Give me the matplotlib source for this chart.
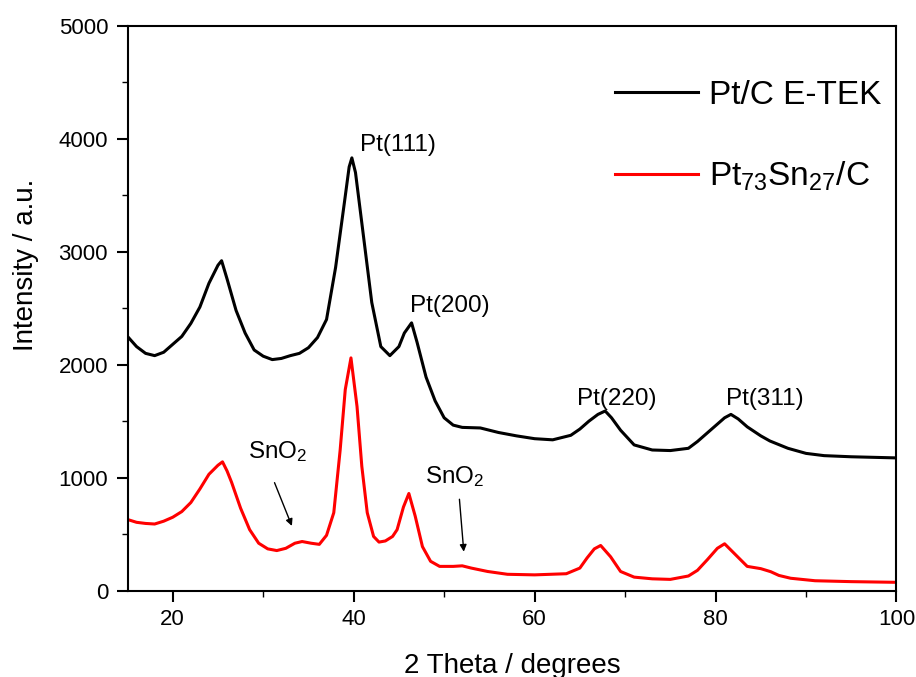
import matplotlib
matplotlib.use("Agg")
import matplotlib.pyplot as plt
from matplotlib.ticker import MultipleLocator

plt.rcParams['font.family'] = 'Liberation Sans'
plt.rcParams['mathtext.fontset'] = 'custom'
plt.rcParams['mathtext.rm'] = 'Liberation Sans'
plt.rcParams['mathtext.it'] = 'Liberation Sans:italic'

# -------------------------------------------------------------------------------------
# Data
# -------------------------------------------------------------------------------------
tt_etek = [15, 16, 17, 18, 19, 20, 21, 22, 23, 24, 25, 25.4, 26, 27, 28, 29, 30, 31, 32, 33,
           34, 35, 36, 37, 38, 39, 39.5, 39.8, 40.2, 41, 42, 43, 44, 45, 45.6, 46.4, 47, 48,
           49, 50, 51, 52, 54, 56, 58, 60, 62, 64, 65, 66, 67, 67.8, 68.5, 69.5, 71, 73, 75,
           77, 78, 79, 80, 81, 81.7, 82.5, 83.5, 85, 86, 88, 90, 92, 95, 100]
i_etek = [2250, 2160, 2100, 2080, 2110, 2180, 2250, 2365, 2510, 2720, 2880, 2920, 2760, 2480,
          2280, 2130, 2075, 2045, 2055, 2080, 2100, 2150, 2240, 2400, 2860, 3450, 3750, 3830,
          3700, 3190, 2550, 2160, 2080, 2160, 2280, 2370, 2200, 1890, 1680, 1530, 1465, 1445,
          1440, 1400, 1370, 1345, 1335, 1375, 1430, 1500, 1560, 1590, 1530, 1420, 1290, 1245,
          1240, 1260, 1320, 1390, 1460, 1530, 1560, 1520, 1450, 1370, 1325, 1260, 1215, 1195,
          1185, 1175]

tt_ptsn = [15, 16, 17, 18, 19, 20, 21, 22, 23, 24, 25, 25.5, 26, 26.5, 27.5, 28.5, 29.5, 30.5,
           31.5, 32.5, 33.5, 34.3, 35.3, 36.2, 37, 37.8, 38.5, 39.07, 39.7, 40.37, 40.9, 41.5,
           42.2, 42.8, 43.5, 44.3, 44.8, 45.5, 46.1, 46.8, 47.6, 48.5, 49.5, 51, 52, 53, 54.8,
           57, 60, 63.5, 65, 65.8, 66.6, 67.3, 68.4, 69.5, 71, 73, 75, 77, 78, 79.1, 80.2, 81,
           82, 83.5, 85, 86.1, 87, 88.3, 91, 95, 100]
i_ptsn = [630, 605, 595, 590, 615, 650, 700, 780, 900, 1030, 1110, 1140, 1060, 960, 730, 540,
          420, 370, 355, 375, 420, 435, 420, 410, 490, 690, 1240, 1780, 2060, 1630, 1100, 690,
          480, 430, 440, 480, 540, 740, 860, 660, 390, 260, 215, 215, 220, 200, 170, 145, 140,
          150, 200, 290, 370, 400, 300, 170, 120, 105, 100, 130, 180, 275, 375, 415, 335, 215,
          195, 168, 135, 110, 88, 80, 74]

Linewidth = 2.2

# -------------------------------------------------------------------------------------
# Plot
# -------------------------------------------------------------------------------------
fig = plt.figure(figsize=(9.16, 6.77), dpi=100)
ax = fig.add_axes([0.1392, 0.1275, 0.8395, 0.8346])

ax.plot(tt_etek, i_etek, color='black', linewidth=Linewidth, label='Pt/C E-TEK')
ax.plot(tt_ptsn, i_ptsn, color='#ff0000', linewidth=Linewidth, label=r'Pt$_{73}$Sn$_{27}$/C')

ax.set_xlim(15, 100)
ax.set_ylim(0, 5000)
ax.xaxis.set_major_locator(MultipleLocator(20))
ax.xaxis.set_minor_locator(MultipleLocator(10))
ax.yaxis.set_major_locator(MultipleLocator(1000))
ax.yaxis.set_minor_locator(MultipleLocator(500))
ax.tick_params(which='both', direction='out', top=False, right=False)
ax.tick_params(which='major', length=8, width=1.5, labelsize=16)
ax.tick_params(which='minor', length=4, width=1.0)
ax.tick_params(axis='x', which='major', pad=5)
ax.tick_params(axis='y', which='major', pad=6)
for s in ax.spines.values():
    s.set_linewidth(1.5)

ax.set_xlabel('2 Theta / degrees', fontsize=20)
ax.set_ylabel('Intensity / a.u.', fontsize=20)
ax.xaxis.set_label_coords(0.5, -0.11)
ax.yaxis.set_label_coords(-0.115, 0.576)

# peak labels
fs = 17.5
ax.text(40.7, 3890, 'Pt(111)', fontsize=fs)
ax.text(46.27, 2469, 'Pt(200)', fontsize=fs)
ax.text(64.64, 1643, 'Pt(220)', fontsize=fs)
ax.text(81.13, 1643, 'Pt(311)', fontsize=fs)
ax.text(28.37, 1172, r'SnO$_2$', fontsize=fs)
ax.text(47.85, 956, r'SnO$_2$', fontsize=fs)
arrow = dict(arrowstyle='-|>', color='black', lw=1.0, mutation_scale=10, shrinkA=0, shrinkB=0)
ax.annotate('', xy=(33.17, 573), xytext=(31.25, 956), arrowprops=arrow)
ax.annotate('', xy=(52.17, 345), xytext=(51.69, 809), arrowprops=arrow)

ax.legend(loc='upper left', bbox_to_anchor=(0.634, 0.904), frameon=False, fontsize=24,
          handlelength=2.5, handletextpad=0.33, labelspacing=1.47, borderpad=0, borderaxespad=0)

plt.savefig('out.png', dpi=100)
